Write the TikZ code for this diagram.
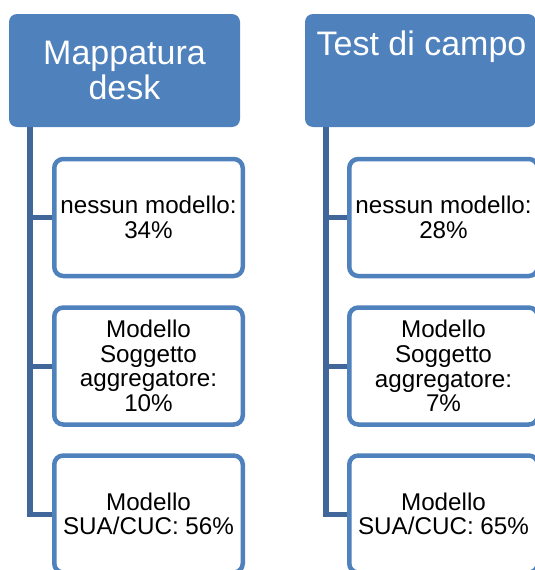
\documentclass[tikz,border=0pt]{standalone}
\usepackage{fontspec}
\setmainfont{Liberation Sans}
\definecolor{accent}{HTML}{4F81BD}
\definecolor{trunk}{HTML}{41679A}
\tikzset{
  x=1pt, y=-1pt,
  header/.style={fill=accent, rounded corners=8pt, minimum width=231pt, minimum height=113pt, inner sep=0pt, text=white, align=center, font=\fontsize{34}{35.5}\selectfont},
  child/.style={draw=accent, line width=4.5pt, fill=white, rounded corners=9pt, minimum width=188.5pt, minimum height=117pt, inner sep=0pt, align=center, text=black, font=\fontsize{24.2}{24.6}\selectfont},
  trunkline/.style={draw=trunk, line width=5.5pt},
  twig/.style={draw=trunk, line width=5pt}
}
\begin{document}
\begin{tikzpicture}
\useasboundingbox (0,0) rectangle (535,570);
\clip (0,0) rectangle (535,570);
% left column
\node[header] (h1) at (124.5,70.5) {Mappatura\\desk};
\coordinate (t1) at (30,127);
\node[child] (b11) at (148.5,217.5) {nessun modello:\\34\%};
\node[child] (b12) at (148.5,366) {Modello\\Soggetto\\aggregatore:\\10\%};
\node[child] (b13) at (148.5,514) {Modello\\SUA/CUC: 56\%};
\draw[trunkline] (t1) -- (t1|-b13.west);
\draw[twig] (t1|-b11.west) -- (b11.west);
\draw[twig] (t1|-b12.west) -- (b12.west);
\draw[twig] ([xshift=-2.75pt]t1|-b13.west) -- (b13.west);
% right column
\node[header] (h2) at (420.5,70.5) {};
\node[anchor=base, text=white, font=\fontsize{34}{35.5}\selectfont, inner sep=0pt] (h2t) at (421.5,55) {Test di campo};
\coordinate (t2) at (326,127);
\node[child] (b21) at (443.5,217.5) {nessun modello:\\28\%};
\node[child] (b22) at (443.5,366) {Modello\\Soggetto\\aggregatore:\\7\%};
\node[child] (b23) at (443.5,514) {Modello\\SUA/CUC: 65\%};
\draw[trunkline] (t2) -- (t2|-b23.west);
\draw[twig] (t2|-b21.west) -- (b21.west);
\draw[twig] (t2|-b22.west) -- (b22.west);
\draw[twig] ([xshift=-2.75pt]t2|-b23.west) -- (b23.west);
\end{tikzpicture}
\end{document}
